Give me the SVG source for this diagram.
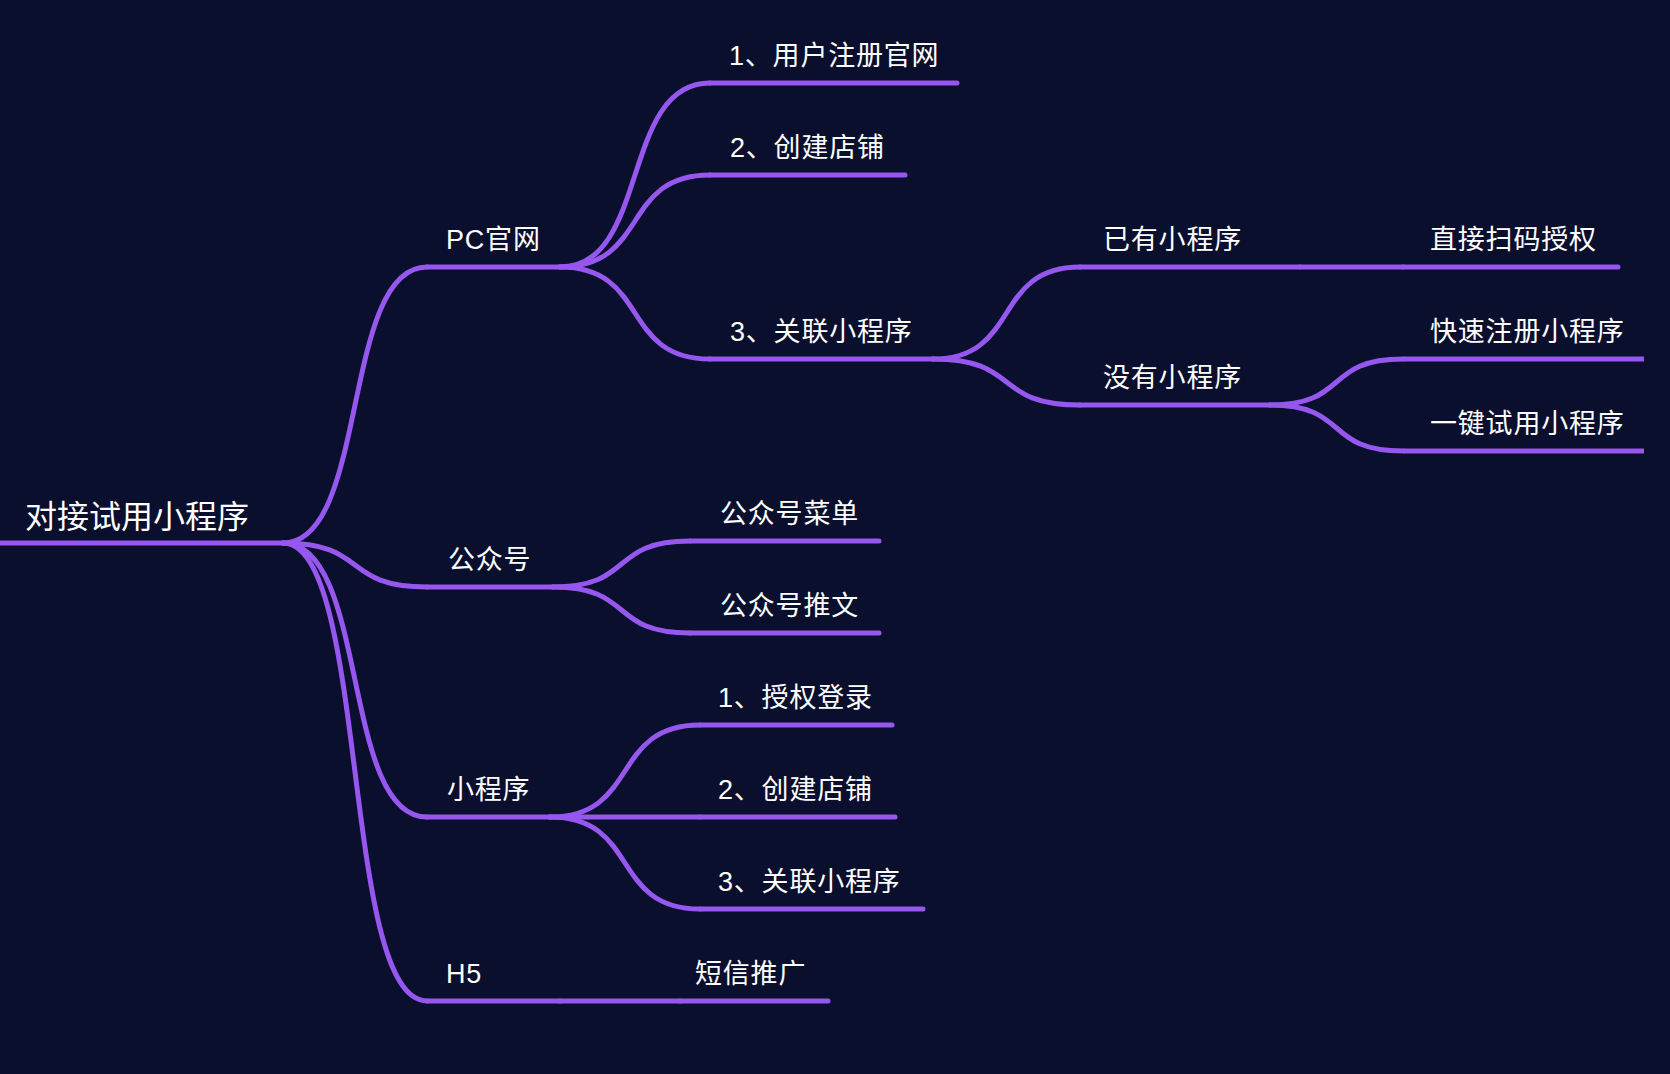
<svg xmlns="http://www.w3.org/2000/svg" width="1670" height="1074" viewBox="0 0 1670 1074">
<style>
.bg{fill:#0b0f2e}
.ul{stroke:#9657ee;stroke-width:5;stroke-linecap:round;fill:none}
.ulb{stroke:#9657ee;stroke-width:5;stroke-linecap:butt;fill:none}
.cn{stroke:#9657ee;stroke-width:5;stroke-linecap:round;fill:none}
.t{fill:#ffffff;font-family:"Liberation Sans","Noto Sans CJK SC",sans-serif;font-size:27px;letter-spacing:0.8px}
.tr{fill:#ffffff;font-family:"Liberation Sans","Noto Sans CJK SC",sans-serif;font-size:32px}
</style>
<rect class="bg" x="0" y="0" width="1670" height="1074"/>
<g id="connectors">
<path class="cn" d="M283 543 C369 543 341 267 427 267"/>
<path class="cn" d="M283 543 C369 543 341 587 427 587"/>
<path class="cn" d="M283 543 C369 543 341 817 427 817"/>
<path class="cn" d="M283 543 C369 543 341 1001 427 1001"/>
<path class="cn" d="M560 267 C650 267 620 83 710 83"/>
<path class="cn" d="M560 267 C650 267 620 175 710 175"/>
<path class="cn" d="M560 267 C650 267 620 359 710 359"/>
<path class="cn" d="M933 359 C1021 359 992 267 1080 267"/>
<path class="cn" d="M933 359 C1021 359 992 405 1080 405"/>
<path class="cn" d="M1300 267 L1403 267"/>
<path class="cn" d="M1270 405 C1350 405 1323 359 1403 359"/>
<path class="cn" d="M1270 405 C1350 405 1323 451 1403 451"/>
<path class="cn" d="M553 587 C635 587 608 541 690 541"/>
<path class="cn" d="M553 587 C635 587 608 633 690 633"/>
<path class="cn" d="M550 817 C640 817 610 725 700 725"/>
<path class="cn" d="M550 817 L700 817"/>
<path class="cn" d="M550 817 C640 817 610 909 700 909"/>
<path class="cn" d="M560 1001 L680 1001"/>
</g>
<g id="node-root">
<line class="ul" x1="-10" y1="543" x2="283" y2="543"/>
<text class="tr" x="25" y="528">对接试用小程序</text>
</g>
<g id="node-pc">
<line class="ul" x1="427" y1="267" x2="560" y2="267"/>
<text class="t" x="446" y="249">PC官网</text>
</g>
<g id="node-pc-1">
<line class="ul" x1="710" y1="83" x2="957" y2="83"/>
<text class="t" x="729" y="65">1、用户注册官网</text>
</g>
<g id="node-pc-2">
<line class="ul" x1="710" y1="175" x2="905" y2="175"/>
<text class="t" x="730" y="157">2、创建店铺</text>
</g>
<g id="node-pc-3">
<line class="ul" x1="710" y1="359" x2="933" y2="359"/>
<text class="t" x="730" y="341">3、关联小程序</text>
</g>
<g id="node-yiyou">
<line class="ul" x1="1080" y1="267" x2="1300" y2="267"/>
<text class="t" x="1103" y="249">已有小程序</text>
</g>
<g id="node-zhijie">
<line class="ul" x1="1403" y1="267" x2="1618" y2="267"/>
<text class="t" x="1430" y="249">直接扫码授权</text>
</g>
<g id="node-meiyou">
<line class="ul" x1="1080" y1="405" x2="1270" y2="405"/>
<text class="t" x="1103" y="387">没有小程序</text>
</g>
<g id="node-kuaisu">
<line class="ulb" x1="1403" y1="359" x2="1644" y2="359"/>
<text class="t" x="1430" y="341">快速注册小程序</text>
</g>
<g id="node-yijian">
<line class="ulb" x1="1403" y1="451" x2="1644" y2="451"/>
<text class="t" x="1430" y="433">一键试用小程序</text>
</g>
<g id="node-gzh">
<line class="ul" x1="427" y1="587" x2="553" y2="587"/>
<text class="t" x="448" y="569">公众号</text>
</g>
<g id="node-gzh-1">
<line class="ul" x1="690" y1="541" x2="879" y2="541"/>
<text class="t" x="720" y="523">公众号菜单</text>
</g>
<g id="node-gzh-2">
<line class="ul" x1="690" y1="633" x2="879" y2="633"/>
<text class="t" x="720" y="615">公众号推文</text>
</g>
<g id="node-xcx">
<line class="ul" x1="427" y1="817" x2="550" y2="817"/>
<text class="t" x="447" y="799">小程序</text>
</g>
<g id="node-xcx-1">
<line class="ul" x1="700" y1="725" x2="892" y2="725"/>
<text class="t" x="718" y="707">1、授权登录</text>
</g>
<g id="node-xcx-2">
<line class="ul" x1="700" y1="817" x2="895" y2="817"/>
<text class="t" x="718" y="799">2、创建店铺</text>
</g>
<g id="node-xcx-3">
<line class="ul" x1="700" y1="909" x2="923" y2="909"/>
<text class="t" x="718" y="891">3、关联小程序</text>
</g>
<g id="node-h5">
<line class="ul" x1="427" y1="1001" x2="560" y2="1001"/>
<text class="t" x="446" y="983">H5</text>
</g>
<g id="node-dxtg">
<line class="ul" x1="680" y1="1001" x2="828" y2="1001"/>
<text class="t" x="695" y="983">短信推广</text>
</g>
</svg>
